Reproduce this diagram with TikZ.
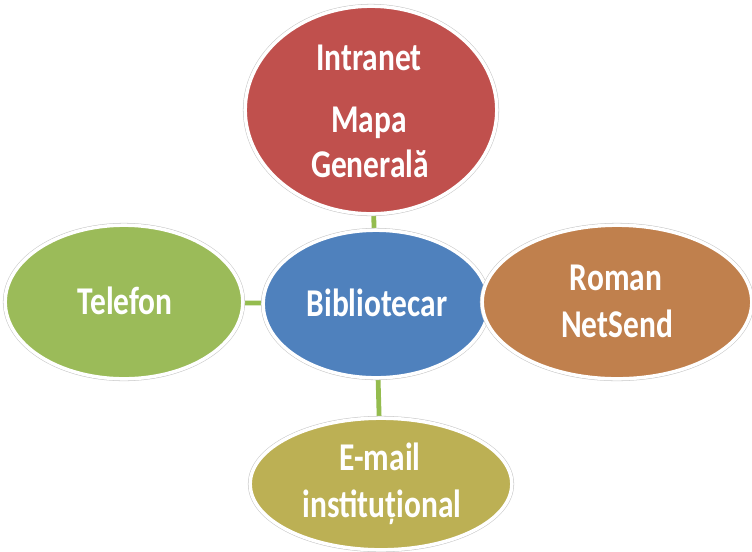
\documentclass[tikz,border=0pt]{standalone}
\usepackage{fontspec}
\setmainfont{Carlito}
\usetikzlibrary{shapes.geometric}
\definecolor{cred}{HTML}{C0504D}
\definecolor{cblue}{HTML}{4F81BD}
\definecolor{cgreen}{HTML}{9BBB59}
\definecolor{corange}{HTML}{C0804D}
\definecolor{colive}{HTML}{BCB054}
\definecolor{clink}{HTML}{94BC4E}
\tikzset{
  bubble/.style={ellipse, inner sep=0pt, draw=white, line width=2.6pt,
    preaction={draw=black!22, line width=3.4pt}},
  lbl/.style={anchor=base, text=white, inner sep=0pt,
    font=\fontsize{23.6pt}{28pt}\selectfont\bfseries},
  link/.style={draw=clink, line width=3.6pt}
}
\newcommand{\vs}[1]{\scalebox{1}[1.25]{#1}}
\begin{document}
\begin{tikzpicture}[x=0.75pt,y=-0.75pt]
\useasboundingbox (0,0) rectangle (752,551);
% connector anchors (centres)
\coordinate (cr) at (371,110);
\coordinate (cb) at (376,304);
\coordinate (cg) at (124,302);
\coordinate (co) at (381,484);
\draw[link] (cr) -- (cb);
\draw[link] (cg) -- (cb);
\draw[link] (cb) -- (co);
% ellipses
\node[bubble, fill=cred, minimum width=251.6*0.75pt, minimum height=207.6*0.75pt] (red) at (cr) {};
\node[bubble, fill=cblue, minimum width=225.6*0.75pt, minimum height=147.6*0.75pt] (blue) at (cb) {};
\node[bubble, fill=cgreen, minimum width=237.6*0.75pt, minimum height=153.6*0.75pt] (green) at (cg) {};
\node[bubble, fill=corange, minimum width=269.6*0.75pt, minimum height=153.6*0.75pt] (orange) at (617,302) {};
\node[bubble, fill=colive, minimum width=261.6*0.75pt, minimum height=131.6*0.75pt] (olive) at (co) {};
% labels
\node[lbl] (t1) at (369,70) {\vs{Intranet}};
\node[lbl] (t2) at (369,132) {\vs{Mapa}};
\node[lbl] (t3) at (370,177) {\vs{Generală}};
\node[lbl] (t4) at (125,314) {\vs{Telefon}};
\node[lbl] (t5) at (377,316) {\vs{Bibliotecar}};
\node[lbl] (t6) at (616,290) {\vs{Roman}};
\node[lbl] (t7) at (617,337) {\vs{NetSend}};
\node[lbl] (t8) at (380,470) {\vs{E-mail}};
\node[lbl] (t9) at (382,517) {\vs{instituțional}};
\end{tikzpicture}
\end{document}
